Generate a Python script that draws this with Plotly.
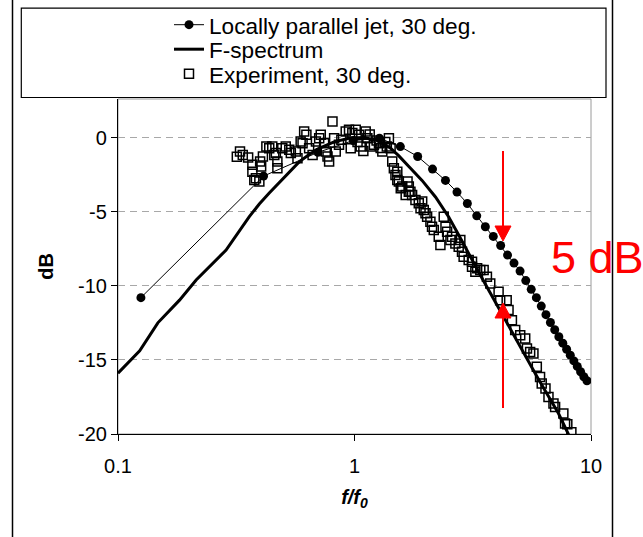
import numpy as np
import plotly.graph_objects as go

# ---------------- data ----------------
jet_f = [0.125, 0.4125, 0.7, 0.9875, 1.275, 1.5625, 1.85, 2.1375, 2.425, 2.7125,
         3.0, 3.2875, 3.575, 3.8625, 4.15, 4.4375, 4.725, 5.0125, 5.3, 5.5875,
         5.875, 6.1625, 6.45, 6.7375, 7.025, 7.3125, 7.6, 7.8875, 8.175, 8.4625,
         8.75, 9.0375, 9.325, 9.6125]
jet_db = [-10.8, -2.6, -1.0, -0.2, -0.05, -0.61, -1.28, -2.13, -2.89, -3.68,
          -4.45, -5.28, -6.02, -6.67, -7.28, -7.93, -8.47, -9.01, -9.65, -10.24,
          -10.80, -11.37, -11.95, -12.48, -12.97, -13.44, -13.87, -14.28, -14.68, -15.07,
          -15.44, -15.80, -16.14, -16.41]

fspec_f = [0.1, 0.1235, 0.1474, 0.182, 0.214, 0.2864, 0.3591, 0.3958, 0.4361, 0.4805,
           0.5295, 0.5834, 0.643, 0.7086, 0.8197, 0.948, 1.0965, 1.2685, 1.421, 1.5402,
           1.6973, 1.93, 2.2, 2.5026, 2.7581, 3.0385, 3.3488, 3.6898, 4.0666, 4.4816,
           4.9374, 5.4413, 5.9966, 6.6069, 7.2812, 8.18, 8.84]
fspec_db = [-15.9, -14.39, -12.5, -10.97, -9.61, -7.59, -5.34, -4.48, -3.74, -3.03,
            -2.32, -1.64, -1.14, -0.73, -0.29, -0.05, 0.0, -0.22, -0.72, -1.24,
            -1.96, -2.89, -4.01, -5.36, -6.57, -7.86, -9.07, -10.29, -11.51, -12.66,
            -13.87, -15.09, -16.30, -17.45, -18.60, -20.29, -21.1]

exp_f = [0.318, 0.328, 0.337, 0.355, 0.370, 0.370, 0.377, 0.383, 0.396, 0.399,
         0.403, 0.410, 0.424, 0.436, 0.449, 0.458, 0.465, 0.472, 0.472, 0.495,
         0.512, 0.530, 0.538, 0.565, 0.574, 0.592, 0.603, 0.6125, 0.626, 0.643,
         0.665, 0.687, 0.709, 0.720, 0.744, 0.756, 0.769, 0.781, 0.807, 0.820,
         0.833, 0.860, 0.880, 0.918, 0.948, 0.964, 0.979, 1.012, 1.030, 1.045,
         1.062, 1.090, 1.115, 1.133, 1.160, 1.171, 1.208, 1.240, 1.269, 1.290,
         1.311, 1.350, 1.370, 1.398, 1.421, 1.444, 1.467, 1.490, 1.517, 1.517,
         1.540, 1.569, 1.592, 1.646, 1.676, 1.697, 1.697, 1.724, 1.752, 1.810,
         1.870, 1.902, 1.933, 1.963, 1.996, 2.028, 2.094, 2.127, 2.164, 2.271,
         2.308, 2.384, 2.425, 2.464, 2.545, 2.585, 2.670, 2.758, 2.802, 2.848,
         2.894, 3.039, 3.14, 3.14, 3.244, 3.30, 3.403, 3.516, 3.630, 3.75,
         4.067, 4.13, 4.40, 4.48, 4.63, 4.78, 5.02, 5.27, 5.36, 5.53,
         5.71, 5.90, 6.09, 6.19, 6.42, 6.61, 6.94, 7.05, 7.64, 7.77,
         7.94, 8.26]
exp_db = [-1.30, -0.95, -1.17, -1.35, -1.84, -2.30, -2.86, -2.74, -2.97, -1.62,
          -1.96, -1.28, -0.61, -0.72, -0.61, -1.17, -1.05, -1.62, -2.07, -0.72,
          -0.61, -0.83, -1.05, -0.95, -1.39, -0.27, -0.38, 0.41, 0.18, -0.72,
          -1.17, -0.27, -0.04, 0.18, -0.38, -0.95, -1.28, -1.62, 1.08, -0.04,
          -0.95, -0.49, -0.15, 0.41, 0.52, -0.72, 0.30, 0.52, -0.30, 0.18,
          -0.61, -0.90, 0.41, -0.04, 0.20, -0.61, -0.49, -0.20, -0.38, -0.70,
          -0.95, -0.30, -0.60, -0.04, -0.72, -1.62, -2.07, -2.52, -2.30, -2.86,
          -2.97, -3.42, -3.31, -3.87, -2.97, -3.31, -3.65, -3.65, -3.87, -4.21,
          -4.43, -4.77, -4.32, -4.89, -5.11, -5.34, -5.68, -6.01, -6.24, -6.69,
          -7.25, -5.34, -6.01, -6.35, -6.91, -6.69, -7.14, -7.36, -6.91, -7.70,
          -8.04, -8.26, -8.72, -8.38, -9.05, -8.82, -8.94, -8.94, -9.39, -9.84,
          -10.41, -10.97, -10.97, -11.64, -12.32, -12.99, -13.33, -13.55, -14.23, -14.46,
          -14.57, -15.47, -16.15, -16.59, -16.93, -17.50, -17.95, -18.18, -18.62, -19.30,
          -19.34, -19.89]

x_ticks = [0.1, 1, 10]
x_ticktext = ["0.1", "1", "10"]
y_ticks = [-20, -15, -10, -5, 0]
y_ticktext = ["-20", "-15", "-10", "-5", "0"]

FONT = "Liberation Sans, Arial, sans-serif"

W, H = 643, 537
L, R, T, B = 118, 52, 99, 103
pw, ph = W - L - R, H - T - B


def px2paper_x(px):
    return (px - L) / pw


def px2paper_y(py):
    return (H - B - py) / ph


fig = go.Figure()
fig.add_trace(go.Scatter(
    x=jet_f, y=jet_db, mode="lines+markers", name="Locally parallel jet, 30 deg.",
    line=dict(color="black", width=1),
    marker=dict(symbol="circle", size=9, color="black"),
    legend="legend"))
fig.add_trace(go.Scatter(
    x=fspec_f, y=fspec_db, mode="lines", name="F-spectrum",
    line=dict(color="black", width=3), legend="legend2"))
fig.add_trace(go.Scatter(
    x=exp_f, y=exp_db, mode="markers", name="Experiment, 30 deg.",
    marker=dict(symbol="square-open", size=9, color="black", line=dict(width=1.5)),
    legend="legend3"))


def tri_path(pts):
    s = "M {} {}".format(px2paper_x(pts[0][0]), px2paper_y(pts[0][1]))
    for p in pts[1:]:
        s += " L {} {}".format(px2paper_x(p[0]), px2paper_y(p[1]))
    return s + " Z"


ax_px = 503
shapes = [
    # plot area grey frame
    dict(type="rect", xref="paper", yref="paper", x0=0, y0=0, x1=1, y1=1,
         line=dict(color="#9a9a9a", width=1), layer="below"),
    # legend box
    dict(type="rect", xref="paper", yref="paper",
         x0=px2paper_x(21.3), x1=px2paper_x(606), y0=px2paper_y(97.5), y1=px2paper_y(8.2),
         line=dict(color="black", width=1.2), fillcolor="rgba(0,0,0,0)"),
    # outer chart border (left and right)
    dict(type="line", xref="paper", yref="paper",
         x0=px2paper_x(12.5), x1=px2paper_x(12.5), y0=px2paper_y(540), y1=px2paper_y(-3),
         line=dict(color="black", width=1.5)),
    dict(type="line", xref="paper", yref="paper",
         x0=px2paper_x(612.5), x1=px2paper_x(612.5), y0=px2paper_y(540), y1=px2paper_y(-3),
         line=dict(color="black", width=1.5)),
    # red arrows (annotation marks)
    dict(type="line", xref="paper", yref="paper",
         x0=px2paper_x(ax_px), x1=px2paper_x(ax_px), y0=px2paper_y(151), y1=px2paper_y(228),
         line=dict(color="red", width=2), layer="above"),
    dict(type="path", xref="paper", yref="paper",
         path=tri_path([(ax_px - 8, 226), (ax_px + 8, 226), (ax_px, 241)]),
         fillcolor="red", line=dict(color="red", width=1), layer="above"),
    dict(type="line", xref="paper", yref="paper",
         x0=px2paper_x(ax_px), x1=px2paper_x(ax_px), y0=px2paper_y(408), y1=px2paper_y(316),
         line=dict(color="red", width=2), layer="above"),
    dict(type="path", xref="paper", yref="paper",
         path=tri_path([(ax_px - 8, 318), (ax_px + 8, 318), (ax_px, 303)]),
         fillcolor="red", line=dict(color="red", width=1), layer="above"),
]

annotations = [
    dict(x=px2paper_x(549), y=px2paper_y(257), xref="paper", yref="paper",
         xanchor="left", yanchor="middle", text="5 dB", showarrow=False,
         font=dict(family=FONT, size=45, color="red")),
]

leg_common = dict(xanchor="left", yanchor="middle", bgcolor="rgba(0,0,0,0)", borderwidth=0,
                  font=dict(family=FONT, size=22.6, color="black"))

fig.update_layout(
    width=W, height=H,
    margin=dict(l=L, r=R, t=T, b=B, pad=0, autoexpand=False),
    paper_bgcolor="white", plot_bgcolor="white",
    font=dict(family=FONT, color="black"),
    showlegend=True,
    legend=dict(x=px2paper_x(169), y=px2paper_y(25), **leg_common),
    legend2=dict(x=px2paper_x(169), y=px2paper_y(49.5), **leg_common),
    legend3=dict(x=px2paper_x(169), y=px2paper_y(74), **leg_common),
    shapes=shapes,
    annotations=annotations,
    xaxis=dict(type="log", range=[-1, 1], tickvals=x_ticks, ticktext=x_ticktext,
               showgrid=False, zeroline=False, showline=True, linecolor="black", linewidth=1.2,
               ticks="outside", ticklen=6, tickcolor="black", tickwidth=1,
               ticklabelstandoff=8, automargin=False,
               tickfont=dict(family=FONT, size=20, color="black"),
               title=dict(text="<b><i>f/f<sub>0</sub></i></b>", standoff=13,
                          font=dict(family=FONT, size=20, color="black"))),
    yaxis=dict(range=[-20, 2.6], tickvals=y_ticks, ticktext=y_ticktext,
               showgrid=True, gridcolor="#a8a8a8", gridwidth=1, griddash="7px,5px",
               zeroline=False, showline=True, linecolor="black", linewidth=1.2,
               ticks="outside", ticklen=6, tickcolor="black", tickwidth=1,
               automargin=False,
               tickfont=dict(family=FONT, size=20, color="black"),
               title=dict(text="<b>dB</b>", standoff=18,
                          font=dict(family=FONT, size=20, color="black"))),
)

fig.write_html("out.html")
